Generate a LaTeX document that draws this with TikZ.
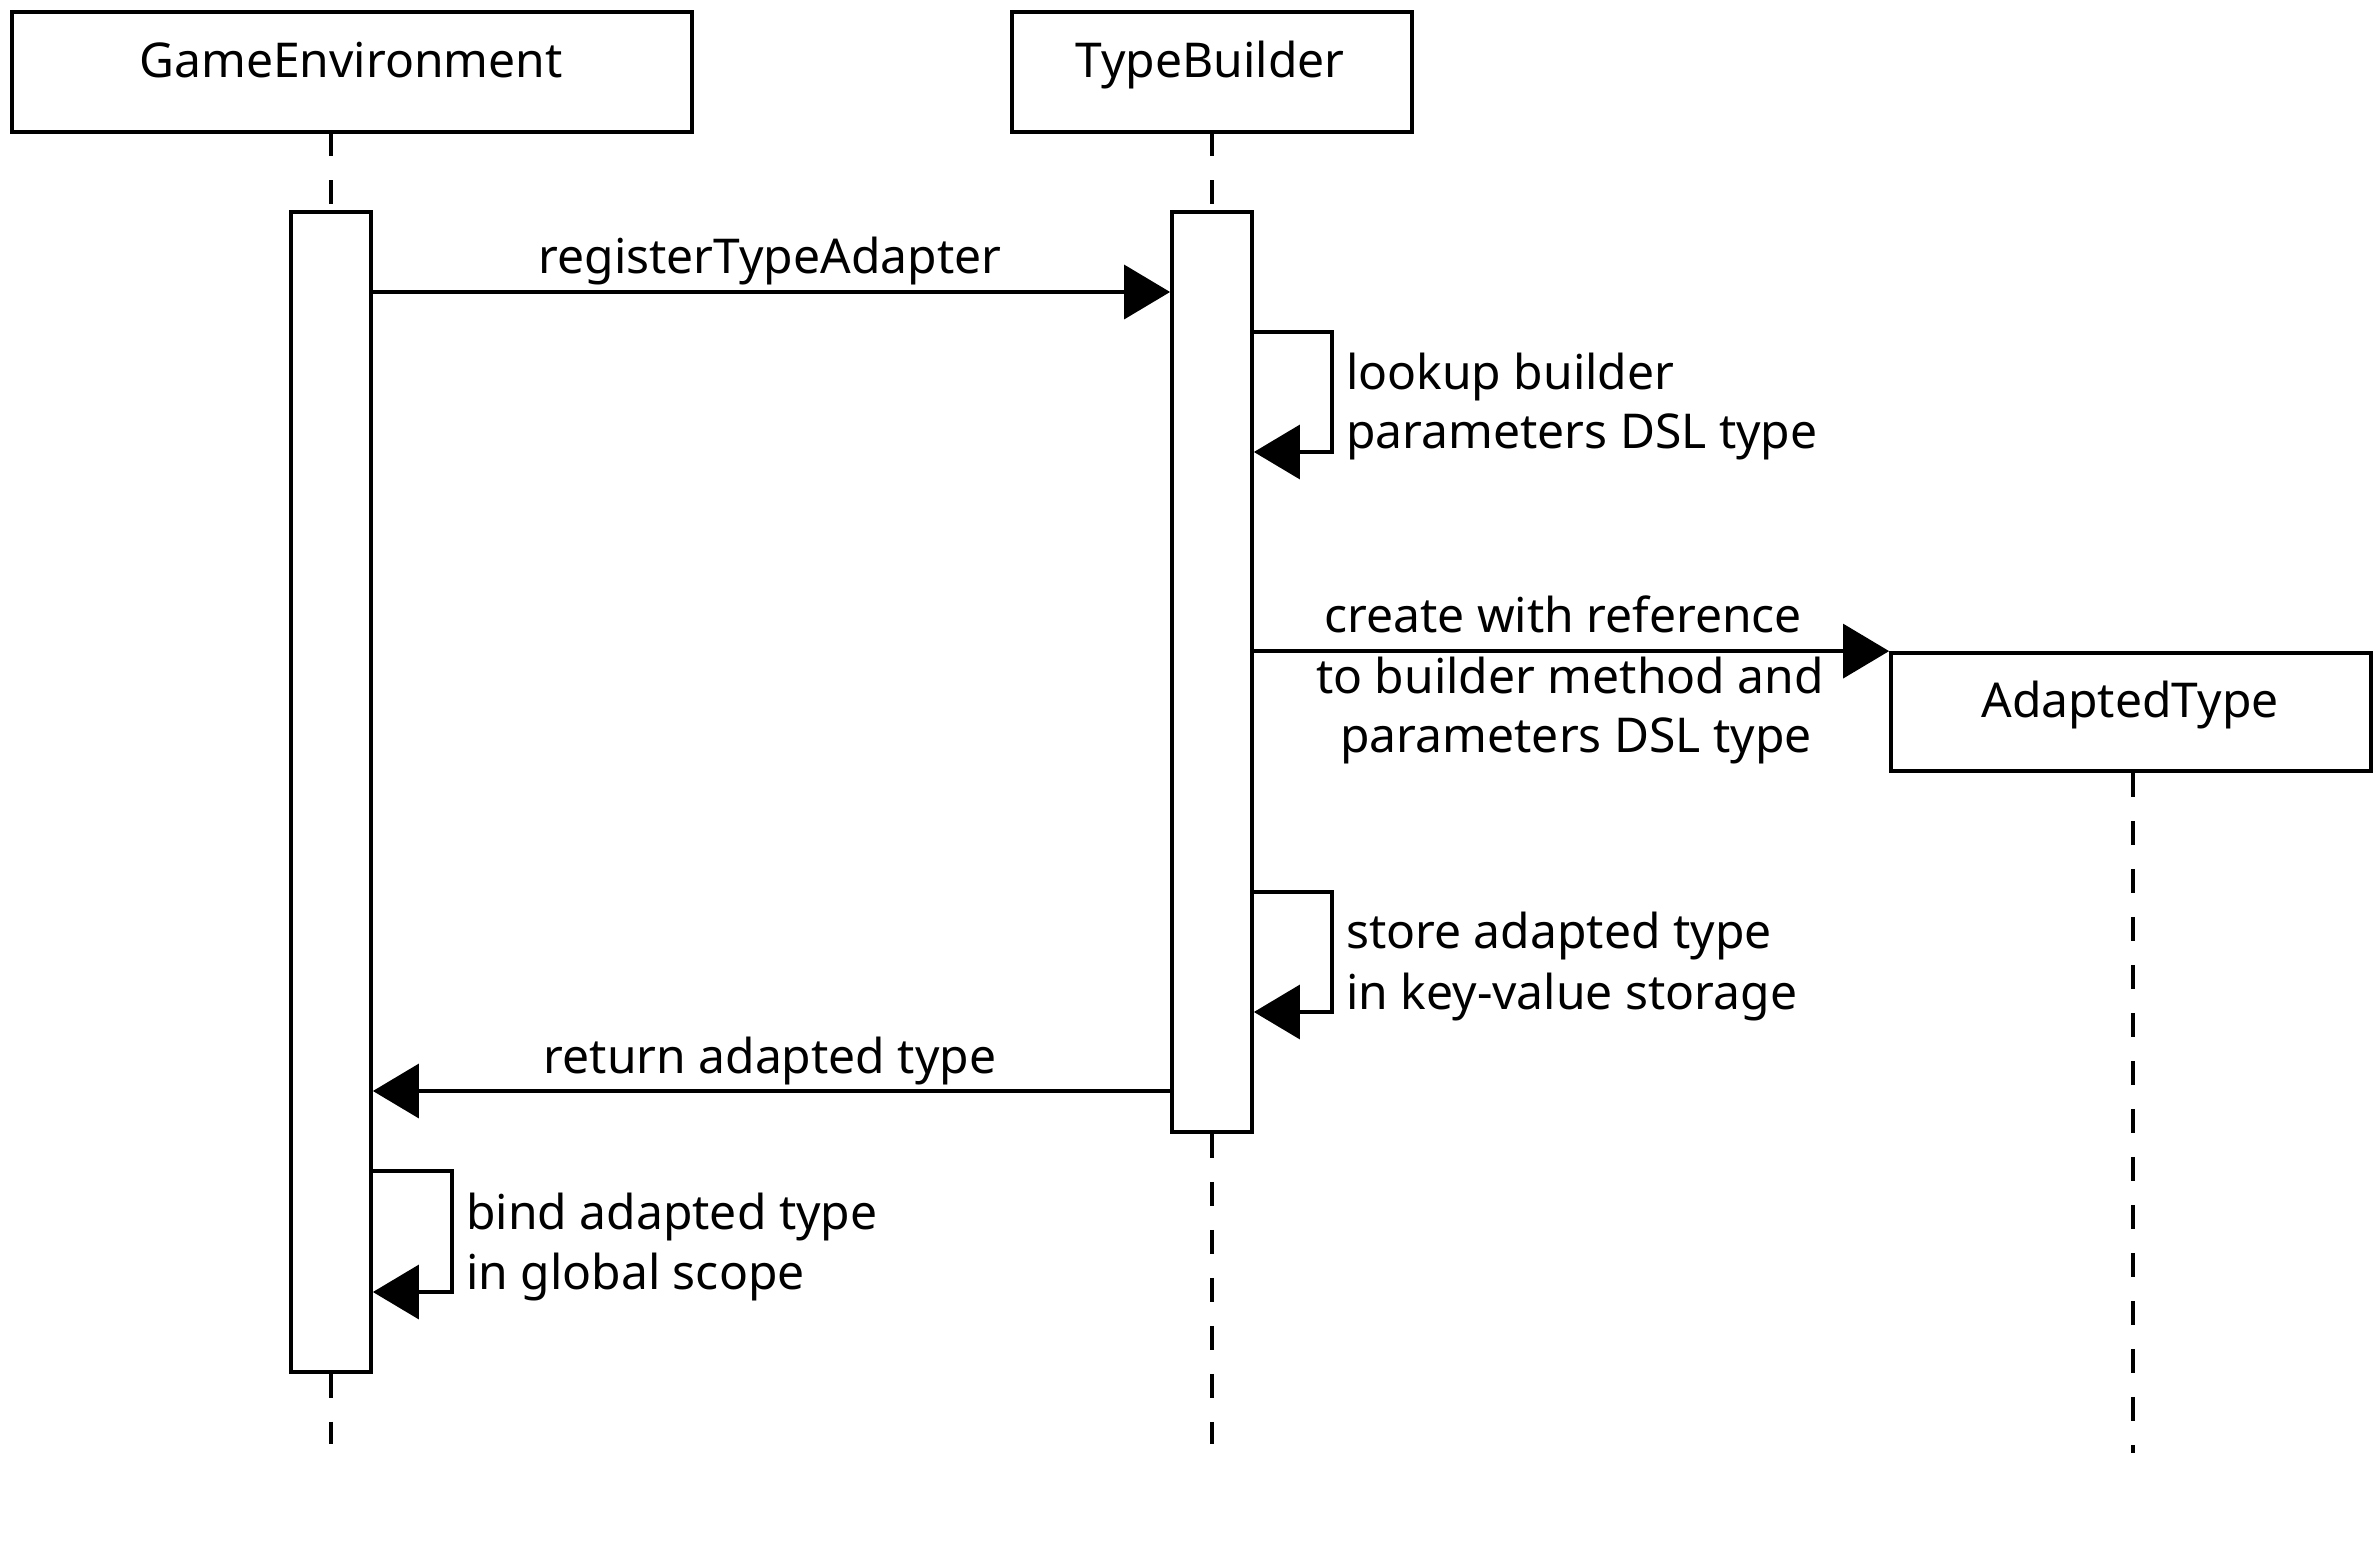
\documentclass[tikz,border=0pt]{standalone}
\usepackage{fontspec}
\setmainfont{Noto Sans}
\usetikzlibrary{arrows.meta}
\begin{document}
\begin{tikzpicture}[x=1pt,y=-1pt,
  box/.style={draw, line width=3.8pt, fill=white, inner sep=0pt},
  act/.style={draw, line width=3.8pt, fill=white, inner sep=0pt, minimum width=80pt},
  lbl/.style={font=\fontsize{48}{60}\selectfont, inner sep=0pt},
  life/.style={line width=3.3pt, dash pattern=on 24pt off 24pt},
  msg/.style={line width=3.5pt, -{Triangle[length=46pt,width=54pt]}}
]
\fill[white] (0,0) rectangle (2380,1540);
\useasboundingbox (0,0) rectangle (2380,1540);

% participant boxes
\node[box, minimum width=680pt, minimum height=120pt] (ge) at (352,72) {};
\node[lbl, anchor=base] (getxt) at (351,77) {GameEnvironment};
\node[box, minimum width=400pt, minimum height=120pt] (tb) at (1212,72) {};
\node[lbl, anchor=base] (tbtxt) at (1210,77) {TypeBuilder};

% lifeline end points
\coordinate (geend) at (331,1444);
\coordinate (tbend) at (1212,1444);
\coordinate (atend) at (2133,1453);

% activations
\node[act, minimum height=1160pt] (geact) at (331,792) {};
\node[act, minimum height=920pt] (tbact) at (1212,672) {};

% lifelines
\draw[life] (331,132) -- (geact.north);
\draw[life] (geact.south) -- (geend);
\draw[life] (1212,132) -- (tbact.north);
\draw[life] (tbact.south) -- (tbend);

% adapted type
\node[box, minimum width=480pt, minimum height=118pt] (at) at (2131,712) {};
\node[lbl, anchor=base] (attxt) at (2130,717) {AdaptedType};
\draw[life] (at.south -| atend) -- (atend);

% y levels
\coordinate (m1) at (0,292);
\coordinate (s1t) at (0,332);
\coordinate (s1b) at (0,452);
\coordinate (s2t) at (0,892);
\coordinate (s2b) at (0,1012);
\coordinate (m3) at (0,1091);
\coordinate (s3t) at (0,1171);
\coordinate (s3b) at (0,1292);

% registerTypeAdapter
\draw[msg] (geact.east |- m1) -- (tbact.west |- m1);
\node[lbl, anchor=base] (l1) at (770,273) {registerTypeAdapter};

% lookup
\draw[msg] (tbact.east |- s1t) -- (1332,332) -- (1332,452) -- (tbact.east |- s1b);
\node[lbl, anchor=base west] (l2a) at (1346,389) {lookup builder};
\node[lbl, anchor=base west] (l2b) at (1346,448) {parameters DSL type};

% create
\draw[msg] (tbact.east |- at.north west) -- (at.north west);
\node[lbl, anchor=base] (l3a) at (1563,632) {create with reference};
\node[lbl, anchor=base] (l3b) at (1570,693) {to builder method and};
\node[lbl, anchor=base] (l3c) at (1576,752) {parameters DSL type};

% store
\draw[msg] (tbact.east |- s2t) -- (1332,892) -- (1332,1012) -- (tbact.east |- s2b);
\node[lbl, anchor=base west] (l4a) at (1346,948) {store adapted type};
\node[lbl, anchor=base west] (l4b) at (1346,1009) {in key-value storage};

% return
\draw[msg] (tbact.west |- m3) -- (geact.east |- m3);
\node[lbl, anchor=base] (l5) at (770,1073) {return adapted type};

% bind
\draw[msg] (geact.east |- s3t) -- (452,1171) -- (452,1292) -- (geact.east |- s3b);
\node[lbl, anchor=base west] (l6a) at (466,1229) {bind adapted type};
\node[lbl, anchor=base west] (l6b) at (466,1289) {in global scope};
\end{tikzpicture}
\end{document}
